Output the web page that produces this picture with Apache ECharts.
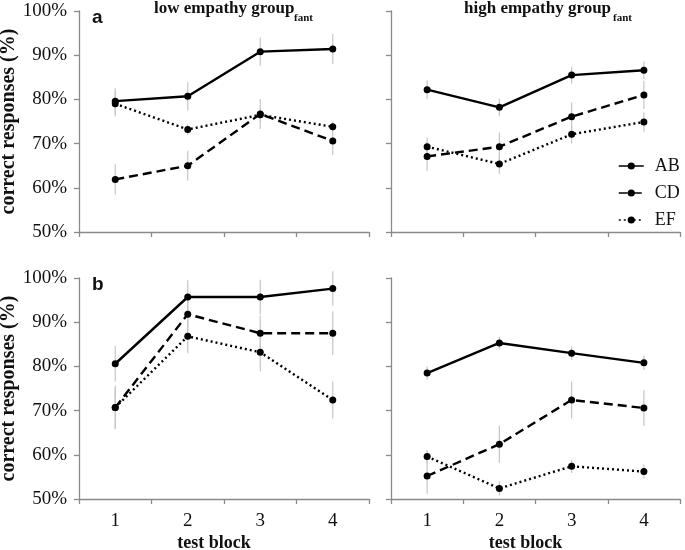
<!DOCTYPE html>
<html><head><meta charset="utf-8">
<script src="https://cdn.jsdelivr.net/npm/echarts@6/dist/echarts.min.js"></script>
<style>html,body{margin:0;padding:0;background:#fff}#c{width:685px;height:550px}</style>
</head><body><div id="c"></div>
<script>
const blocks = ['1', '2', '3', '4'];
const seriesNames = ['AB', 'CD', 'EF'];
const yMin = 50, yMax = 100, yStep = 10;

// panel a, low empathy
const lowA_AB = [79.6, 80.7, 90.8, 91.4];
const lowA_CD = [61.9, 65.0, 76.7, 70.6];
const lowA_EF = [79.0, 73.2, 76.5, 73.8];
const lowA_AB_err = [2.9, 3.2, 3.2, 3.4];
const lowA_CD_err = [3.4, 3.4, 3.4, 3.2];
const lowA_EF_err = [2.8, 1.2, 1.5, 1.2];
// panel a, high empathy
const highA_AB = [82.2, 78.2, 85.5, 86.6];
const highA_CD = [67.1, 69.3, 76.1, 81.0];
const highA_EF = [69.3, 65.4, 72.1, 74.9];
const highA_AB_err = [2.1, 2.0, 1.9, 2.0];
const highA_CD_err = [3.3, 3.2, 3.2, 3.2];
const highA_EF_err = [2.1, 2.2, 2.1, 2.2];
// panel b, low empathy
const lowB_AB = [80.6, 95.7, 95.7, 97.6];
const lowB_CD = [70.7, 91.8, 87.5, 87.5];
const lowB_EF = [70.7, 86.8, 83.2, 72.4];
const lowB_AB_err = [4.0, 3.8, 3.9, 3.9];
const lowB_CD_err = [4.9, 4.0, 4.0, 4.9];
const lowB_EF_err = [4.5, 3.8, 4.3, 4.2];
// panel b, high empathy
const highB_AB = [78.5, 85.3, 83.0, 80.8];
const highB_CD = [55.2, 62.4, 72.4, 70.6];
const highB_EF = [59.6, 52.4, 57.4, 56.2];
const highB_AB_err = [1.5, 1.4, 1.5, 1.6];
const highB_CD_err = [4.0, 4.2, 4.2, 4.1];
const highB_EF_err = [1.5, 1.6, 1.5, 1.6];

const panels = [
  {vals: [lowA_AB, lowA_CD, lowA_EF], errs: [lowA_AB_err, lowA_CD_err, lowA_EF_err]},
  {vals: [highA_AB, highA_CD, highA_EF], errs: [highA_AB_err, highA_CD_err, highA_EF_err]},
  {vals: [lowB_AB, lowB_CD, lowB_EF], errs: [lowB_AB_err, lowB_CD_err, lowB_EF_err]},
  {vals: [highB_AB, highB_CD, highB_EF], errs: [highB_AB_err, highB_CD_err, highB_EF_err]}
];

const serif = '"Liberation Serif", "Times New Roman", serif';
const axisCol = '#8a8a8a';
const txtCol = '#111';
const dashTypes = ['solid', [9, 5], [2, 3]];

const grids = [
  {left: 79, top: 11, width: 290, height: 221},
  {left: 391, top: 11, width: 289, height: 221},
  {left: 79, top: 278, width: 290, height: 221},
  {left: 391, top: 278, width: 289, height: 221}
].map(g => Object.assign(g, {containLabel: false, outerBoundsMode: 'none'}));

const xAxes = grids.map((g, i) => ({
  type: 'category', gridIndex: i, data: blocks, boundaryGap: true,
  axisLine: {lineStyle: {color: axisCol, width: 1.3}},
  axisTick: {show: true, length: 5, inside: false, lineStyle: {color: axisCol, width: 1.3}},
  axisLabel: {show: i >= 2, fontFamily: serif, fontSize: 19, color: txtCol, margin: 13},
  name: i >= 2 ? 'test block' : '',
  nameLocation: 'middle', nameGap: 35,
  nameTextStyle: {fontFamily: serif, fontSize: 18, fontWeight: 'bold', color: txtCol, padding: [0, 20, 0, 0]}
}));

const yAxes = grids.map((g, i) => ({
  type: 'value', gridIndex: i, min: yMin, max: yMax, interval: yStep,
  splitLine: {show: false},
  axisLine: {show: true, lineStyle: {color: axisCol, width: 1.3}},
  axisTick: {show: true, length: 5, lineStyle: {color: axisCol, width: 1.3}},
  axisLabel: {show: i % 2 === 0, formatter: '{value}%', fontFamily: serif, fontSize: 19, color: txtCol, margin: 12},
  name: i % 2 === 0 ? 'correct responses (%)' : '',
  nameLocation: 'middle', nameGap: 59, nameRotate: 90,
  nameTextStyle: {fontFamily: serif, fontSize: 20, fontWeight: 'bold', color: txtCol}
}));

const series = [];
panels.forEach((p, pi) => {
  p.vals.forEach((vals, si) => {
    series.push({
      type: 'custom', xAxisIndex: pi, yAxisIndex: pi, z: 1, silent: true,
      data: vals.map((v, k) => [k, v - p.errs[si][k], v + p.errs[si][k]]),
      renderItem: (params, api) => {
        const x = api.value(0);
        const lo = api.coord([x, api.value(1)]);
        const hi = api.coord([x, api.value(2)]);
        return {type: 'line', shape: {x1: lo[0], y1: lo[1], x2: hi[0], y2: hi[1]},
          style: {stroke: '#c6c6c6', lineWidth: 1.2}};
      }
    });
  });
  p.vals.forEach((vals, si) => {
    series.push({
      type: 'line', name: seriesNames[si], xAxisIndex: pi, yAxisIndex: pi, z: 3,
      data: vals, symbol: 'circle', symbolSize: 7, silent: true,
      itemStyle: {color: '#000'},
      lineStyle: {color: '#000', width: 2.4, type: dashTypes[si]}
    });
  });
});

const chart = echarts.init(document.getElementById('c'), null, {renderer: 'canvas'});
chart.setOption({
  animation: false,
  backgroundColor: '#fff',
  grid: grids,
  xAxis: xAxes,
  yAxis: yAxes,
  legend: {
    data: seriesNames.map((n, i) => ({name: n, lineStyle: {type: dashTypes[i], width: 1.5, color: '#000'}, itemStyle: {color: '#000'}})),
    orient: 'vertical', left: 618, top: 157, padding: 0,
    itemWidth: 25, itemHeight: 9, itemGap: 9,
    textStyle: {fontFamily: serif, fontSize: 18, color: txtCol, padding: [0, 0, 0, 6]},
    selectedMode: false
  },
  graphic: [
    {type: 'text', left: 154, top: 0, style: {text: 'low empathy group', font: 'bold 17px ' + serif, fill: txtCol}},
    {type: 'text', left: 294, top: 13, style: {text: 'fant', font: 'bold 11px ' + serif, fill: txtCol}},
    {type: 'text', left: 464, top: 0, style: {text: 'high empathy group', font: 'bold 17px ' + serif, fill: txtCol}},
    {type: 'text', left: 613, top: 13, style: {text: 'fant', font: 'bold 11px ' + serif, fill: txtCol}},
    {type: 'text', left: 92, top: 8, style: {text: 'a', font: 'bold 19px "Liberation Sans", Arial, sans-serif', fill: txtCol}},
    {type: 'text', left: 92, top: 275, style: {text: 'b', font: 'bold 19px "Liberation Sans", Arial, sans-serif', fill: txtCol}}
  ],
  series: series
});
</script></body></html>
